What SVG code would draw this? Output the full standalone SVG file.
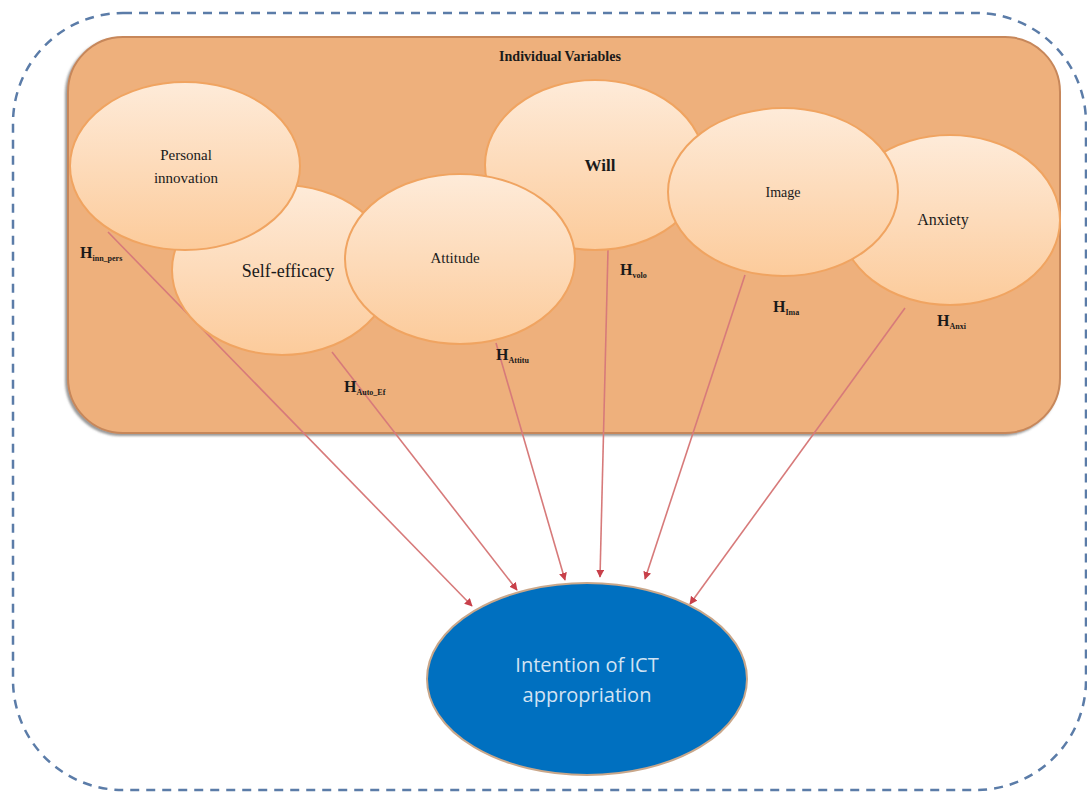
<svg xmlns="http://www.w3.org/2000/svg" width="1087" height="793" viewBox="0 0 1087 793">
<defs>
<linearGradient id="eg" x1="0" y1="0" x2="0" y2="1">
<stop offset="0" stop-color="#FEEBD9"/>
<stop offset="1" stop-color="#FCCB9B"/>
</linearGradient>
<marker id="arr" viewBox="0 0 10 10" refX="9" refY="5" markerWidth="5" markerHeight="5" orient="auto">
<path d="M0,0 L10,5 L0,10 z" fill="#C8404A"/>
</marker>
<filter id="sh" x="-5%" y="-5%" width="110%" height="110%">
<feDropShadow dx="-2" dy="2" stdDeviation="1" flood-color="#555" flood-opacity="0.6"/>
</filter>
</defs>
<style>
.ell{fill:url(#eg);stroke:#F0A461;stroke-width:2}
.lbl{font-family:"Liberation Serif",serif;fill:#1a1a1a;text-anchor:middle}
.h{font-family:"Liberation Serif",serif;font-weight:bold;font-size:16px;fill:#1a1a1a}
.sub{font-size:8px}
.conn{stroke:#D77A7A;stroke-width:1.6;fill:none;marker-end:url(#arr)}
</style>
<rect x="0" y="0" width="1087" height="793" fill="#ffffff"/>
<g id="outer">
<rect x="13" y="13" width="1073" height="777" rx="110" ry="110" fill="none" stroke="#5B7CA8" stroke-width="2.5" stroke-dasharray="9,7"/>
</g>
<g id="individual-variables">
<rect x="68" y="37" width="992" height="396" rx="55" ry="55" fill="#EEB07C" stroke="#C7875A" stroke-width="2" filter="url(#sh)"/>
<text x="560" y="61" class="lbl" font-size="14" font-weight="bold">Individual Variables</text>
</g>
<g id="connectors">
<line class="conn" x1="108" y1="232" x2="472" y2="606"/>
<line class="conn" x1="332" y1="352" x2="517" y2="590"/>
<line class="conn" x1="496" y1="343" x2="565" y2="580"/>
<line class="conn" x1="608" y1="250" x2="600" y2="577"/>
<line class="conn" x1="745" y1="275" x2="645" y2="579"/>
<line class="conn" x1="905" y1="308" x2="690" y2="604"/>
</g>
<g id="self-efficacy">
<ellipse class="ell" cx="282" cy="270" rx="110" ry="85"/>
<text x="288" y="277" class="lbl" font-size="18">Self-efficacy</text>
</g>
<g id="will">
<ellipse class="ell" cx="595" cy="165" rx="110" ry="85"/>
<text x="600" y="171" class="lbl" font-size="17" font-weight="bold">Will</text>
</g>
<g id="anxiety">
<ellipse class="ell" cx="950" cy="220" rx="110" ry="85"/>
<text x="943" y="225" class="lbl" font-size="16">Anxiety</text>
</g>
<g id="personal-innovation">
<ellipse class="ell" cx="185" cy="166" rx="115" ry="84"/>
<text x="186" y="160" class="lbl" font-size="15">Personal</text>
<text x="186" y="183" class="lbl" font-size="15">innovation</text>
</g>
<g id="attitude">
<ellipse class="ell" cx="460" cy="259" rx="115" ry="85"/>
<text x="455" y="263" class="lbl" font-size="15">Attitude</text>
</g>
<g id="image">
<ellipse class="ell" cx="783" cy="192" rx="115" ry="84"/>
<text x="783" y="197" class="lbl" font-size="14">Image</text>
</g>
<g id="labels">
<text x="80" y="258" class="h">H<tspan class="sub" dy="3">inn_pers</tspan></text>
<text x="344" y="392" class="h">H<tspan class="sub" dy="3">Auto_Ef</tspan></text>
<text x="496" y="360" class="h">H<tspan class="sub" dy="3">Attitu</tspan></text>
<text x="620" y="275" class="h">H<tspan class="sub" dy="3">volo</tspan></text>
<text x="773" y="312" class="h">H<tspan class="sub" dy="3">Ima</tspan></text>
<text x="937" y="326" class="h">H<tspan class="sub" dy="3">Anxi</tspan></text>
</g>
<g id="intention">
<ellipse cx="587" cy="679" rx="160" ry="96" fill="#0070C0" stroke="#C9A78A" stroke-width="2"/>
<text x="587" y="672" font-family="'Open Sans',sans-serif" font-size="20" fill="#D2E3F3" text-anchor="middle">Intention of ICT</text>
<text x="587" y="702" font-family="'Open Sans',sans-serif" font-size="20" fill="#D2E3F3" text-anchor="middle">appropriation</text>
</g>
</svg>
